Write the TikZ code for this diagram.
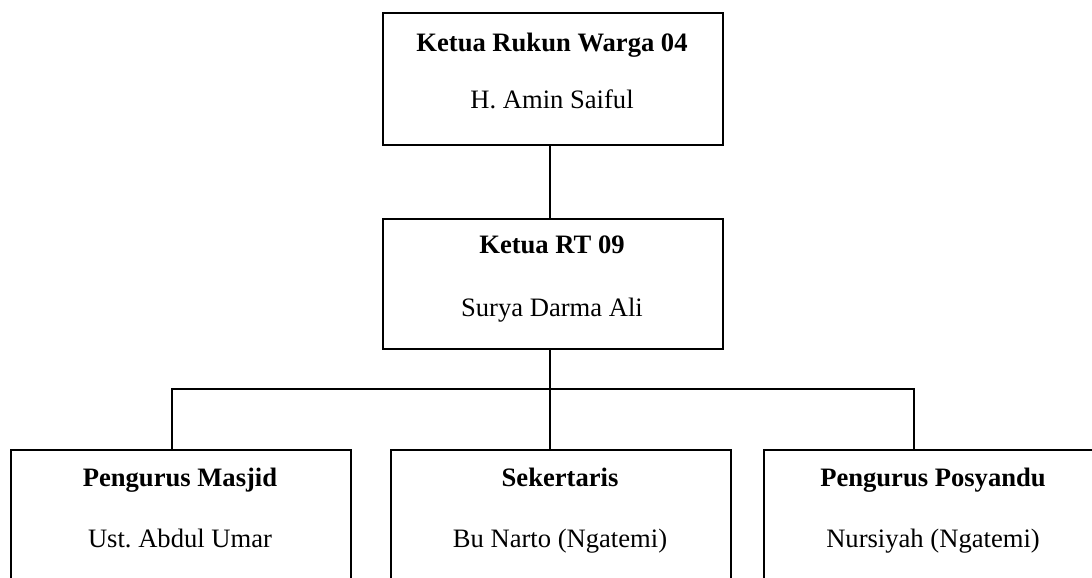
\documentclass[tikz,border=0pt]{standalone}
\usepackage{fontspec}
\setmainfont{Liberation Serif}
\begin{document}
\frenchspacing
\begin{tikzpicture}[x=1pt,y=-1pt,
  box/.style={draw=black,line width=2pt,rectangle,inner sep=0pt,minimum width=340pt,anchor=north west},
  conn/.style={draw=black,line width=2pt},
  titletext/.style={anchor=base,inner sep=0pt,font=\fontsize{26.6}{30}\selectfont\bfseries},
  persontext/.style={anchor=base,inner sep=0pt,font=\fontsize{26.6}{30}\selectfont}]
\useasboundingbox (0,0) rectangle (1092,578);
\clip (0,0) rectangle (1092,578);
\node[box,minimum height=132pt] (rw) at (382,12) {};
\node[box,minimum height=130pt] (rt) at (382,218) {};
\node[box,minimum height=160pt] (masjid) at (10,449) {};
\node[box,minimum height=160pt] (sek) at (390,449) {};
\node[box,minimum height=160pt] (pos) at (763,449) {};
\node[titletext] (t1) at (552,52) {Ketua Rukun Warga 04};
\node[persontext] (n1) at (552,108) {H. Amin Saiful};
\node[titletext] (t2) at (552,253) {Ketua RT 09};
\node[persontext] (n2) at (552,316) {Surya Darma Ali};
\node[titletext] (t3) at (180,486) {Pengurus Masjid};
\node[persontext] (n3) at (180,547) {Ust. Abdul Umar};
\node[titletext] (t4) at (560,486) {Sekertaris};
\node[persontext] (n4) at (560,547) {Bu Narto (Ngatemi)};
\node[titletext] (t5) at (933,486) {Pengurus Posyandu};
\node[persontext] (n5) at (933,547) {Nursiyah (Ngatemi)};
\coordinate (busm) at (550,389);
\coordinate (busl) at (172,389);
\coordinate (busr) at (914,389);
\draw[conn] (rw.south -| busm) -- (rt.north -| busm);
\draw[conn] (rt.south -| busm) -- (busm);
\draw[conn] (busl |- masjid.north) -- (busl) -- (busr) -- (busr |- pos.north);
\draw[conn] (busm) -- (busm |- sek.north);
\end{tikzpicture}
\end{document}
